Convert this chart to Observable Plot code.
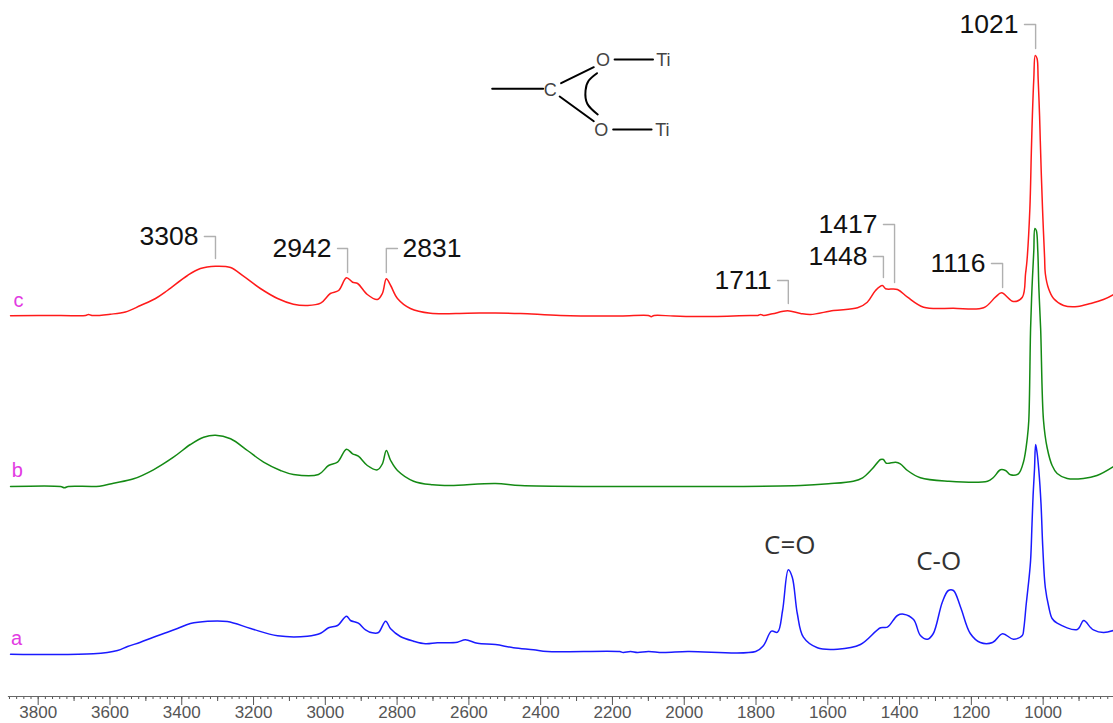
<!DOCTYPE html>
<html><head><meta charset="utf-8">
<script src="https://cdn.jsdelivr.net/npm/d3@7"></script>
<script src="https://cdn.jsdelivr.net/npm/@observablehq/plot@0.6"></script>
<style>html,body{margin:0;padding:0;background:#fff;overflow:hidden}svg{display:block}</style>
</head><body><div id="chart"></div>
<script>
// wavenumber (cm-1), intensity (arbitrary units, measured above the axis)
const wnC = [3877,3738,3668,3660,3650,3599,3557,3515,3473,3440,3384,3348,3306,3264,3228,3181,3133,3089,3050,3013,2986,2963,2941,2924,2910,2883,2855,2841,2830,2818,2799,2763,2707,2604,2526,2456,2345,2178,2100,2092,2084,2030,1955,1816,1795,1787,1779,1754,1712,1676,1648,1584,1517,1490,1467,1448,1439,1406,1378,1333,1250,1166,1133,1116,1083,1058,1049,1045,1037,1033,1030,1026,1022,1017,1014,1010,1008,1005,1001,996,994,985,971,943,904,868,832,804];
const valC = [380.7,381,381,382,381,382.3,384.5,391,398,406,421,428,430.3,429,420.3,408,398,392.3,391,393.3,403,406,418.7,414.3,413,402,397,403,417.7,411,398,388,383.3,383.3,383.5,383,381,380.5,381,379.8,381,380.5,380,381,381,382,381,382.7,385.7,383,382,386,388.7,394.3,406,411,407.7,407,399.3,389.3,388.3,388.7,399.3,403.7,395,399.3,423,436,488,543,581,618,641,638,618,581,556,521,481,439,423,408,398,391,390,393,397,402];

const wnB = [3877,3738,3727,3716,3629,3590,3534,3479,3423,3376,3339,3306,3264,3217,3172,3125,3089,3019,2991,2966,2941,2924,2908,2883,2855,2841,2830,2818,2799,2754,2701,2651,2526,2456,2233,1955,1676,1598,1529,1503,1476,1453,1445,1437,1411,1398,1378,1342,1267,1155,1138,1119,1105,1091,1069,1055,1044,1040,1035,1031,1026,1023,1019,1015,1012,1007,999,989,975,961,933,888,850,804];
const valB = [210,210,208.7,210,210.3,213.3,217.7,226.7,239.3,252,259.3,261.3,257.7,246,234.3,226,222,222,231,234.3,247.3,242.7,240.3,231,226.7,232.7,246,236,226,215.3,211.7,211,213,211,210,210,211,212.7,215.3,218.7,227.7,237,237,233.3,234.3,232.7,226,218.7,215.3,215.3,219.3,226.7,226,221.7,222.7,234.3,259,276,368,409,446,468,466,446,409,368,276,249,231,223,218,218,221,230];

const wnA = [3877,3646,3579,3551,3515,3479,3440,3412,3376,3328,3273,3208,3133,3050,3013,2991,2966,2941,2930,2908,2888,2869,2852,2832,2818,2791,2754,2721,2688,2632,2610,2576,2526,2476,2420,2381,2180,2170,2150,2130,2100,2060,1990,1801,1779,1757,1740,1726,1710,1699,1685,1668,1629,1573,1509,1453,1434,1406,1389,1361,1342,1322,1306,1281,1264,1250,1230,1203,1175,1141,1113,1083,1058,1054,1047,1040,1035,1031,1028,1024,1021,1017,1012,1006,1001,994,984,975,961,905,887,868,860,832,804];
const valA = [42.3,42.7,46,50,54.3,59.3,64.3,68,73,75.3,75,68,60.7,60.3,63.3,68.7,71,80.3,76,73.3,66.7,63.7,64,75.3,67.7,60,55.3,52.7,53.7,54.3,56.7,53.3,52,48.7,46.7,45,45,44,45,44,45,44,45,45,51,65.3,64.3,86,126.7,119.3,83,59.3,48.7,47.3,52,68.7,69.3,81,82.3,77,61,57.3,63,94.3,106,106,89.3,63,54,54,62.7,57.3,61,67.7,93,116,136,173,201,228,252,244,226,193,149,109,89,78,73.3,67,76,69,66.7,64,66];

const majorTicks = [3800,3600,3400,3200,3000,2800,2600,2400,2200,2000,1800,1600,1400,1200,1000];
const midTicks = [3700,3500,3300,3100,2900,2700,2500,2300,2100,1900,1700,1500,1300,1100,900];
const minorTicks = d3.range(3880, 810, -20);

// peak annotations: label, peak wavenumber, elbow wavenumber, elbow height, leader end height
const peakLabels = ["3308","2942","2831","1711","1448","1417","1116","1021"];
const peakWn     = [3306,2938,2830,1710,1445,1414,1113,1021];
const elbowWn    = [3337,2966,2799,1740,1473,1445,1144,1052];
const elbowVal   = [460,448,448,416,440,472,433,672];
const leaderEnd  = [438,424,424,393,419,414,409,648];

const seriesNames = ["c","b","a"];
const seriesLabelWn = [3855,3858,3860];
const seriesLabelVal = [396,226,58];

const bandLabels = ["C=O","C-O"];
const bandWn = [1706,1291];
const bandVal = [151,135];

// structure inset
const bonds = [
  [[2535,607.7],[2393,607.7]],
  [[2343,613.3],[2252,629.3]],
  [[2347,600],[2252,575.3]],
  [[2194,637],[2087,637]],
  [[2198,567],[2091,567]]
];
const arcPts = [[2243,623.3],[2266,616],[2275,606],[2270,592.7],[2241,582]];
const atomNames = ["C","O","O","Ti","Ti"];
const atomWn = [2373,2226,2231,2058,2061];
const atomVal = [606.7,636,566.7,636,566];

const idx = a => d3.range(a.length);
const spectrum = (wn, val, stroke) => Plot.line(idx(wn), {x: i => wn[i], y: i => val[i], stroke, strokeWidth: 1.5, curve: "catmull-rom"});

const isLeft = i => peakLabels[i] !== "2831";
const chart = Plot.plot({
  width: 1113, height: 723,
  marginTop: 0, marginRight: 0, marginBottom: 27, marginLeft: 0,
  style: {background: "#fff", fontFamily: "'Liberation Sans', Arial, sans-serif"},
  x: {domain: [3905, 804], label: null},
  y: {domain: [0, 696], axis: null},
  marks: [
    Plot.axisX(minorTicks, {anchor: "bottom", tickSize: 3, tickFormat: () => "", stroke: "#555", label: null}),
    Plot.axisX(midTicks, {anchor: "bottom", tickSize: 5, tickFormat: () => "", stroke: "#555", label: null}),
    Plot.axisX(majorTicks, {anchor: "bottom", tickSize: 9, tickPadding: 0, tickFormat: "d", stroke: "#555", fill: "#555", fontSize: 17, label: null}),
    Plot.ruleY([0], {x1: 3883, x2: 804, stroke: "#666", strokeWidth: 1.2}),

    spectrum(wnC, valC, "#ff1a1a"),
    spectrum(wnB, valB, "#148a14"),
    spectrum(wnA, valA, "#1a1aff"),

    Plot.text(idx(seriesNames), {x: i => seriesLabelWn[i], y: i => seriesLabelVal[i], text: i => seriesNames[i], fill: "#e23be2", fontSize: 20}),

    ...peakLabels.map((_, i) => Plot.line([0, 1, 2], {
      x: k => k === 0 ? elbowWn[i] : peakWn[i],
      y: k => k === 2 ? leaderEnd[i] : elbowVal[i],
      stroke: "#b0b0b0", strokeWidth: 1.4
    })),
    Plot.text(idx(peakLabels).filter(isLeft), {x: i => elbowWn[i], y: i => elbowVal[i], text: i => peakLabels[i], textAnchor: "end", dx: -6, fill: "#111", fontSize: 26.5}),
    Plot.text(idx(peakLabels).filter(i => !isLeft(i)), {x: i => elbowWn[i], y: i => elbowVal[i], text: i => peakLabels[i], textAnchor: "start", dx: 5, fill: "#111", fontSize: 26.5}),

    Plot.text(idx(bandLabels), {x: i => bandWn[i], y: i => bandVal[i], text: i => bandLabels[i], fill: "#333", fontSize: 26, fontFamily: "'Open Sans', sans-serif"}),

    ...bonds.map(b => Plot.line(b, {x: d => d[0], y: d => d[1], stroke: "#000", strokeWidth: 2})),
    Plot.line(arcPts, {x: d => d[0], y: d => d[1], stroke: "#000", strokeWidth: 2, curve: "natural"}),
    Plot.text(idx(atomNames), {x: i => atomWn[i], y: i => atomVal[i], text: i => atomNames[i], fill: "#444", fontSize: 18})
  ]
});
document.getElementById("chart").appendChild(chart);
</script></body></html>
